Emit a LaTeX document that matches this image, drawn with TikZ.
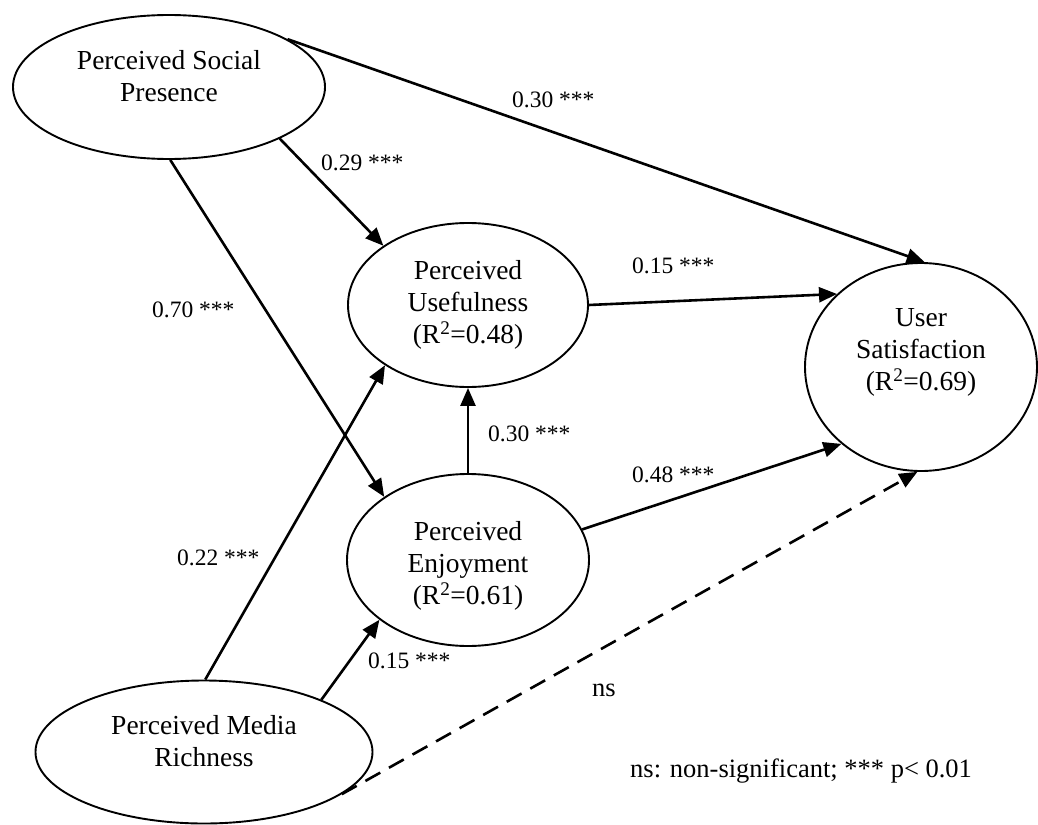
\documentclass[tikz,border=0pt]{standalone}
\usepackage{fontspec}
\setmainfont{Liberation Serif}
\usetikzlibrary{shapes.geometric,arrows.meta}
\begin{document}
\begin{tikzpicture}[x=1pt,y=-1pt,
  ell/.style={draw, ellipse, line width=1.9pt, inner sep=0pt},
  etext/.style={align=center, inner sep=0pt, font=\fontsize{27.5}{32}\selectfont},
  lab/.style={anchor=base west, inner sep=0pt, font=\fontsize{23.5}{28}\selectfont},
  note/.style={anchor=base west, inner sep=0pt, font=\fontsize{26.5}{30}\selectfont},
  arr/.style={line width=2.6pt, -{Triangle[length=18pt,width=15pt]}},
  nsarr/.style={arr, dash pattern=on 17pt off 10pt},
]
\useasboundingbox (0,0) rectangle (1038,824);

% ellipses
\node[ell, minimum width=312pt, minimum height=144pt] (sp) at (169,87) {};
\node[ell, minimum width=240pt, minimum height=164pt] (pu) at (468,305) {};
\node[ell, minimum width=232pt, minimum height=208pt] (us) at (921,367) {};
\node[ell, minimum width=242pt, minimum height=172pt] (pe) at (468,560) {};
\node[ell, minimum width=337pt, minimum height=143pt] (mr) at (204,752) {};

% ellipse texts
\node[etext] (spt) at (169,76) {Perceived Social\\Presence};
\node[etext] (put) at (468,305) {Perceived\\Usefulness\\(R\textsuperscript{2}=0.48)};
\node[etext] (ust) at (921,352) {User\\Satisfaction\\(R\textsuperscript{2}=0.69)};
\node[etext] (pet) at (468,566) {Perceived\\Enjoyment\\(R\textsuperscript{2}=0.61)};
\node[etext] (mrt) at (204,741) {Perceived Media\\Richness};

% connectors
\draw[arr] (sp.22) -- (us.88);
\draw[arr] (sp.-25) -- (pu.145);
\draw[arr] (sp.-89) -- (pe.143);
\draw[arr] (pu.0) -- (us.139);
\draw[arr] (pe.90) -- (pu.-90);
\draw[arr] (pe.15) -- (us.224);
\draw[arr] (mr.89) -- (pu.216);
\draw[arr] (mr.24) -- (pe.214);
\draw[nsarr] (mr.-17) -- (us.268);

% labels
\node[lab] (l1) at (512,108) {0.30 ***};
\node[lab] (l2) at (321,170) {0.29 ***};
\node[lab] (l3) at (152,317) {0.70 ***};
\node[lab] (l4) at (632,273) {0.15 ***};
\node[lab] (l5) at (488,441) {0.30 ***};
\node[lab] (l6) at (632,482) {0.48 ***};
\node[lab] (l7) at (177,565) {0.22 ***};
\node[lab] (l8) at (368,668) {0.15 ***};
\node[note] (l9) at (592,696) {ns};
\node[note] (leg) at (630,777) {ns: non-significant; *** p< 0.01};
\end{tikzpicture}
\end{document}
